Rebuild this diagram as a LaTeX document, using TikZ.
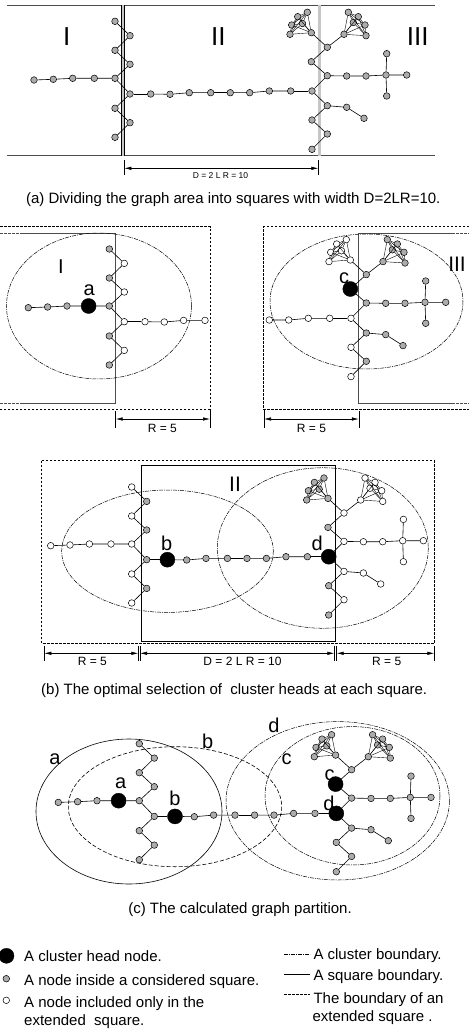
\documentclass[tikz,border=0pt]{standalone}
\usepackage{fontspec}
\setmainfont{Liberation Sans}
\usetikzlibrary{arrows.meta}
\newcommand\partLeft[1]{%
\node[gsL] (#1L1) at (34,80) {};
\node[gsL] (#1L2) at (53.3,79.3) {};
\node[gsL] (#1L3) at (72.7,78.3) {};
\node[gsA] (#1L4) at (94.3,78.3) {};
\node[gsZo] (#1Z1) at (115,21.3) {};
\node[gsZe] (#1Z2) at (130,35.7) {};
\node[gsZo] (#1Z3) at (115,50.3) {};
\node[gsZe] (#1Z4) at (130,64.3) {};
\node[gsZo] (#1Z5) at (115,78.3) {};
\node[gsZe] (#1Z6) at (130,94) {};
\node[gsZo] (#1Z7) at (115,108.3) {};
\node[gsZe] (#1Z8) at (130,122.7) {};
\node[gsZo] (#1Z9) at (115,137.3) {};
\draw[ed] (#1L1)--(#1L2)--(#1L3)--(#1L4)--(#1Z5);
\draw[ed] (#1Z1)--(#1Z2)--(#1Z3)--(#1Z4)--(#1Z5)--(#1Z6)--(#1Z7)--(#1Z8)--(#1Z9);
}
\newcommand\partMidA[1]{%
\node[gsB] (#1M1) at (150.7,94) {};
\node[gsMA] (#1M2) at (170,94.3) {};
\node[gsMA] (#1M3) at (189.3,92.7) {};
\node[gsMA] (#1M4) at (210.7,92.7) {};
\draw[ed] (#1M1)--(#1M2)--(#1M3)--(#1M4);
}
\newcommand\partMidB[1]{%
\node[gsMB] (#1M5) at (230.3,92.7) {};
\node[gsMB] (#1M6) at (249.7,92.7) {};
\node[gsMB] (#1M7) at (269.3,91) {};
\node[gsMB] (#1M8) at (290.7,91) {};
\draw[ed] (#1M5)--(#1M6)--(#1M7)--(#1M8);
}
\newcommand\mkclique[1]{%
\foreach \i in {1,...,5}{\pgfmathtruncatemacro\ii{\i+1}%
\foreach \j in {\ii,...,6}{\draw[ed,line width=0.4] (#1\i)--(#1\j);}}%
}
\newcommand\partRight[1]{%
\node[gsRo] (#1R1) at (327.3,47.3) {};
\node[gsC] (#1R2) at (311.3,61.7) {};
\node[gsRo] (#1R3) at (327.3,75.7) {};
\node[gsD] (#1R4) at (312,91) {};
\node[gsRo] (#1R5) at (327.3,105.7) {};
\node[gsRe] (#1R6) at (312,120) {};
\node[gsRo] (#1R7) at (327.3,134) {};
\node[gsRe] (#1R8) at (312,149.3) {};
\node[gsS] (#1S1) at (346.7,76) {};
\node[gsS] (#1S2) at (366,76) {};
\node[gsS] (#1S3) at (386,75) {};
\node[gsS] (#1S4) at (386.7,53.7) {};
\node[gsS] (#1S5) at (386.7,96) {};
\node[gsS] (#1S6) at (406.7,75) {};
\node[gsS] (#1T1) at (346.7,107.3) {};
\node[gsS] (#1T2) at (364,118.3) {};
\node[gsK] (#1K1) at (290,34.3) {};
\node[gsK] (#1K2) at (291.7,25) {};
\node[gsK] (#1K3) at (297.7,16.7) {};
\node[gsK] (#1K4) at (307.3,12.3) {};
\node[gsK] (#1K5) at (302.5,23.5) {};
\node[gsK] (#1K6) at (311.3,32.7) {};
\node[gsQ] (#1Q1) at (344,34.3) {};
\node[gsQ] (#1Q2) at (348.3,12.3) {};
\node[gsQ] (#1Q3) at (358.3,16.7) {};
\node[gsQ] (#1Q4) at (353.3,22.5) {};
\node[gsQ] (#1Q5) at (365,25) {};
\node[gsQ] (#1Q6) at (366,35.7) {};
\draw[ed] (#1R1)--(#1R2)--(#1R3)--(#1R4)--(#1R5)--(#1R6)--(#1R7)--(#1R8);
\draw[ed] (#1R3)--(#1S1)--(#1S2)--(#1S3)--(#1S6);
\draw[ed] (#1S4)--(#1S3)--(#1S5);
\draw[ed] (#1R5)--(#1T1)--(#1T2);
\draw[ed] (#1K6)--(#1R1)--(#1Q1);
\mkclique{#1K}\mkclique{#1Q}%
}
\begin{document}
\begin{tikzpicture}[x=1pt,y=-1pt,
 gn/.style={circle,draw,line width=0.5,fill=gray!65,inner sep=0,minimum size=6.6},
 wn/.style={circle,draw,line width=0.5,fill=white,inner sep=0,minimum size=6.6},
 ch/.style={circle,draw,fill=black,inner sep=0,minimum size=15},
 ed/.style={line width=0.6},
 allgray/.style={gsL/.style=gn,gsA/.style=gn,gsZo/.style=gn,gsZe/.style=gn,gsB/.style=gn,gsMA/.style=gn,gsMB/.style=gn,gsRo/.style=gn,gsC/.style=gn,gsD/.style=gn,gsRe/.style=gn,gsS/.style=gn,gsK/.style=gn,gsQ/.style=gn},
 sq/.style={line width=0.9,draw=black!70},
 ext/.style={line width=0.7,dash pattern=on 2.5pt off 1.5pt},
 clb/.style={line width=0.5,dash pattern=on 4pt off 1pt on 1pt off 1pt},
 dim/.style={line width=0.6,{Latex[length=7pt,width=3.5pt]}-{Latex[length=7pt,width=3.5pt]}},
 tk/.style={line width=0.6},
 lbl/.style={font=\fontsize{20}{24}\selectfont,inner sep=0},
 rom/.style={font=\fontsize{21}{25}\selectfont,inner sep=0},
 captxt/.style={font=\fontsize{15}{18}\selectfont,inner sep=0,anchor=base},
 leg/.style={font=\fontsize{15}{18}\selectfont,inner sep=0,anchor=base west},
 dl/.style={font=\fontsize{12}{14}\selectfont,inner sep=0,anchor=base},
]
\useasboundingbox (0,0) rectangle (469,1032);
% ---------------- panel (a)
\coordinate (aTL) at (6.7,5.3); \coordinate (aTR) at (435,5.3);
\coordinate (aBL) at (6.7,155.7); \coordinate (aBR) at (435,155.7);
\draw[sq] (aTL)--(aTR); \draw[sq] (aBL)--(aBR);
\coordinate (aV1t) at (122.8,5.3); \coordinate (aV1b) at (122.8,155.7);
\coordinate (aV2t) at (319.5,5.3); \coordinate (aV2b) at (319.5,155.7);
\draw[line width=0.6,double=gray!45,double distance=2.2] (aV1t)--(aV1b);
\draw[line width=0.6,double=gray!45,double distance=2.2] (aV2t)--(aV2b);
\node[font=\fontsize{26}{30}\selectfont,inner sep=0] (aI) at (66.7,36.2) {I};
\node[font=\fontsize{26}{30}\selectfont,inner sep=0] (aII) at (218.3,36.2) {II};
\node[font=\fontsize{26}{30}\selectfont,inner sep=0] (aIII) at (417.7,36.2) {III};
\begin{scope}[allgray]
\partLeft{pa}\partMidA{pa}\partMidB{pa}\partRight{pa}
\draw[ed] (paZ6)--(paM1); \draw[ed] (paM4)--(paM5); \draw[ed] (paM8)--(paR4);
\end{scope}
\coordinate (aD1) at (124.3,168.3); \coordinate (aD2) at (318.3,168.3);
\draw[tk] (124.3,160)--(124.3,175); \draw[tk] (318.3,160)--(318.3,175);
\draw[dim] (aD1)--(aD2);
\node[font=\fontsize{8.5}{10}\selectfont,inner sep=0,anchor=base] (aDl) at (220.5,178.3) {D = 2 L R = 10};
\node[captxt] (capa) at (233.3,204) {(a) Dividing the graph area into squares with width D=2LR=10.};
% ---------------- panel (b) left
\draw[ext] (0,226.7)--(210,226.7)--(210,409)--(0,409);
\draw[sq] (20,233.3)--(115.7,233.3)--(115.7,403.3)--(20,403.3);
\draw[ext,draw=black!70] (0,233.3)--(20,233.3); \draw[ext,draw=black!70] (0,403.3)--(20,403.3);
\draw[clb] (99,306) ellipse [x radius=92.5,y radius=73];
\begin{scope}[shift={(-5.7,227.7)},gsL/.style=gn,gsA/.style=ch,gsZo/.style=gn,gsZe/.style=wn,gsB/.style=wn,gsMA/.style=wn]
\partLeft{pbl}\partMidA{pbl}
\draw[ed] (pblZ6)--(pblM1);
\end{scope}
\node[font=\fontsize{20}{24}\selectfont,inner sep=0] (blI) at (61,266.7) {I};
\node[lbl] (bla) at (89.3,290.5) {a};
\coordinate (blD1) at (115.7,419); \coordinate (blD2) at (210,419);
\draw[tk] (115.7,411)--(115.7,428); \draw[tk] (210,409)--(210,428);
\draw[dim] (blD1)--(blD2);
\node[dl] (blR) at (162.3,432.7) {R = 5};
% ---------------- panel (b) right
\draw[ext] (469,226.7)--(263.3,226.7)--(263.3,409)--(469,409);
\draw[sq] (452,233.3)--(358.8,233.3)--(358.8,403.3)--(452,403.3);
\draw[ext,draw=black!70] (452,233.3)--(469,233.3); \draw[ext,draw=black!70] (452,403.3)--(469,403.3);
\draw[clb] (366.5,301.5) ellipse [x radius=96.5,y radius=67.5];
\begin{scope}[shift={(39,227.3)},gsMB/.style=wn,gsRo/.style=gn,gsC/.style=ch,gsD/.style=wn,gsRe/.style=wn,gsS/.style=gn,gsK/.style=wn,gsQ/.style=gn]
\partMidB{pbr}\partRight{pbr}
\draw[ed] (pbrM8)--(pbrR4);
\end{scope}
\node[rom] (brIII) at (457,264) {III};
\node[lbl] (brc) at (344,278.3) {c};
\coordinate (brD1) at (264,419); \coordinate (brD2) at (358.8,419);
\draw[tk] (264,409)--(264,428); \draw[tk] (358.8,411)--(358.8,428);
\draw[dim] (brD1)--(brD2);
\node[dl] (brR) at (311.5,432.7) {R = 5};
% ---------------- panel (b) middle
\draw[ext] (41.7,460.7) rectangle (434.3,643.3);
\draw[sq,draw=black] (141.7,465.7) rectangle (335,641);
\draw[clb] (167.5,551.2) ellipse [x radius=105.8,y radius=61.2];
\draw[clb] (322.8,548) ellipse [x radius=105.5,y radius=80.3];
\begin{scope}[shift={(16.7,465.7)},gsL/.style=wn,gsA/.style=wn,gsZo/.style=wn,gsZe/.style=gn,gsB/.style=ch,gsMA/.style=gn,gsMB/.style=gn,gsRo/.style=wn,gsC/.style=gn,gsD/.style=ch,gsRe/.style=gn,gsS/.style=wn,gsK/.style=gn,gsQ/.style=wn]
\partLeft{pbm}\partMidA{pbm}\partMidB{pbm}\partRight{pbm}
\draw[ed] (pbmZ6)--(pbmM1); \draw[ed] (pbmM4)--(pbmM5); \draw[ed] (pbmM8)--(pbmR4);
\end{scope}
\node[rom] (bmII) at (235,484.2) {II};
\node[lbl] (bmb) at (166.7,543.3) {b};
\node[lbl] (bmd) at (317.3,543.3) {d};
\coordinate (bmD1) at (44.3,653.3); \coordinate (bmD2) at (138.3,653.3);
\coordinate (bmD3) at (140,653.3); \coordinate (bmD4) at (334.3,653.3);
\coordinate (bmD5) at (336.7,653.3); \coordinate (bmD6) at (434.3,653.3);
\foreach \x in {44.3,138.3,140,334.3,336.7,434.3}{\draw[tk] (\x,645.5)--(\x,661);}
\draw[dim] (bmD1)--(bmD2); \draw[dim] (bmD3)--(bmD4); \draw[dim] (bmD5)--(bmD6);
\node[dl] (bmR1) at (92.3,665.3) {R = 5};
\node[dl] (bmDl) at (242.5,665.3) {D = 2 L R = 10};
\node[dl] (bmR2) at (386.7,665.3) {R = 5};
\node[captxt] (capb) at (234.2,694) {(b) The optimal selection of~ cluster heads at each square.};
% ---------------- panel (c)
\draw[line width=0.6] (129,811.5) ellipse [x radius=93,y radius=72.5];
\draw[line width=0.6,dash pattern=on 4pt off 2pt] (175,806.7) ellipse [x radius=106.7,y radius=60];
\draw[clb] (337.7,800.8) ellipse [x radius=111.7,y radius=79.2];
\draw[clb] (352.5,795.8) ellipse [x radius=87.5,y radius=69.2];
\begin{scope}[shift={(24.3,722.4)},allgray,gsA/.style=ch,gsB/.style=ch,gsC/.style=ch,gsD/.style=ch]
\partLeft{pc}\partMidA{pc}\partMidB{pc}\partRight{pc}
\draw[ed] (pcZ6)--(pcM1); \draw[ed] (pcM4)--(pcM5); \draw[ed] (pcM8)--(pcR4);
\end{scope}
\node[lbl] (ca1) at (55,759.3) {a};
\node[lbl] (cb1) at (207.7,741.7) {b};
\node[lbl] (cd1) at (274,725.8) {d};
\node[lbl] (cc1) at (286.7,759.5) {c};
\node[lbl] (ca2) at (120.7,783.3) {a};
\node[lbl] (cb2) at (175,798.3) {b};
\node[lbl] (cc2) at (329.5,775) {c};
\node[lbl] (cd2) at (329,803.5) {d};
\node[captxt] (capc) at (240,913.3) {(c) The calculated graph partition.};
% ---------------- legend
\node[ch] (lg1) at (6.5,955.8) {};
\node[gn] (lg2) at (6.3,978.7) {};
\node[wn] (lg3) at (6.3,1000.3) {};
\node[leg] (lt1) at (24,961.7) {A cluster head node.};
\node[leg] (lt2) at (24,985.7) {A node inside a considered square.};
\node[leg] (lt3) at (24,1007.3) {A node included only in the};
\node[leg] (lt4) at (24,1025) {extended~ square.};
\coordinate (l1a) at (284,954.3); \coordinate (l1b) at (310,954.3);
\coordinate (l2a) at (284,974.3); \coordinate (l2b) at (310,974.3);
\coordinate (l3a) at (284,994.3); \coordinate (l3b) at (310,994.3);
\draw[clb] (l1a)--(l1b);
\draw[line width=0.7] (l2a)--(l2b);
\draw[ext] (l3a)--(l3b);
\node[leg] (rt1) at (313.3,959.3) {A cluster boundary.};
\node[leg] (rt2) at (313.3,980) {A square boundary.};
\node[leg] (rt3) at (313.3,1003.3) {The boundary of an};
\node[leg] (rt4) at (312.3,1021) {extended square .};
\end{tikzpicture}
\end{document}
